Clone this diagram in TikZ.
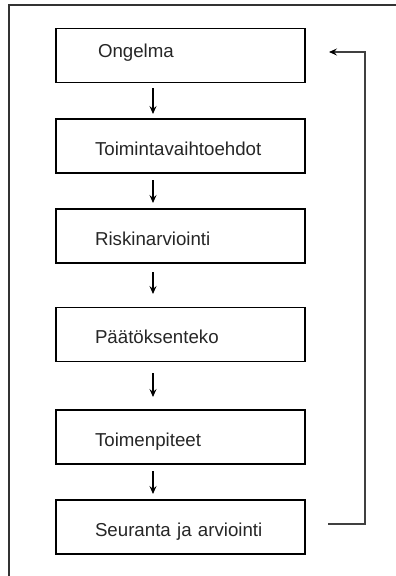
\documentclass[tikz,border=0pt]{standalone}
\usepackage{fontspec}
\setmainfont{Liberation Sans}
\usetikzlibrary{arrows.meta}
\begin{document}
\begin{tikzpicture}[x=1pt,y=1pt,
  box/.style={draw=black, line width=1.5pt, minimum width=249pt, minimum height=54pt,
    inner xsep=0pt, inner ysep=0pt, text width=171pt, align=left, text height=18pt, text depth=0pt,
    font=\fontsize{18.7}{23}\selectfont, text=black!85},
  flow/.style={line width=1.2pt, -{Stealth[length=8pt,width=7pt,inset=3pt]}},
  back/.style={line width=1.1pt, draw=black!75, -{Stealth[length=8pt,width=7pt,inset=3pt,color=black]}}]
\useasboundingbox (0,0) rectangle (396,-576);
\begin{scope}
\clip (0,0) rectangle (396,-576);
\draw[line width=2pt, draw=black!80] (9,-600) -- (9,-5) -- (420,-5);
\end{scope}
\node[box, text height=3pt] (b1) at (180.5,-55.5) {\hspace*{3pt}Ongelma};
\node[box] (b2) at (180.5,-146) {Toimintavaihtoehdot};
\node[box] (b3) at (180.5,-236) {Riskinarviointi};
\node[box] (b4) at (180.5,-334.5) {Päätöksenteko};
\node[box] (b5) at (180.5,-437) {Toimenpiteet};
\node[box] (b6) at (180.5,-527) {Seuranta ja arviointi};
\coordinate (a1s) at (153,-88);  \coordinate (a1e) at (153,-114);
\coordinate (a2s) at (153,-180); \coordinate (a2e) at (153,-203);
\coordinate (a3s) at (153,-272); \coordinate (a3e) at (153,-294);
\coordinate (a4s) at (153,-373); \coordinate (a4e) at (153,-397);
\coordinate (a5s) at (153,-471); \coordinate (a5e) at (153,-494);
\draw[flow] (a1s) -- (a1e);
\draw[flow] (a2s) -- (a2e);
\draw[flow] (a3s) -- (a3e);
\draw[flow] (a4s) -- (a4e);
\draw[flow] (a5s) -- (a5e);
\coordinate (fbs) at (328,-524);
\coordinate (fbc1) at (365,-524);
\coordinate (fbc2) at (365,-52);
\coordinate (fbe) at (329,-52);
\draw[back] (fbs) -- (fbc1) -- (fbc2) -- (fbe);
\end{tikzpicture}
\end{document}
